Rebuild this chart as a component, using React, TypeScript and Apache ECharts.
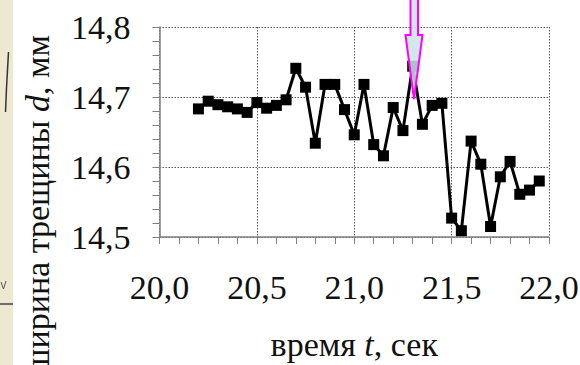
import React, { useEffect, useRef } from "react";
import * as echarts from "echarts";

const times: number[] = [
  20.2, 20.25, 20.3, 20.35, 20.4, 20.45, 20.5, 20.55, 20.6, 20.65, 20.7, 20.75,
  20.8, 20.85, 20.9, 20.95, 21.0, 21.05, 21.1, 21.15, 21.2, 21.25, 21.3, 21.35,
  21.4, 21.45, 21.5, 21.55, 21.6, 21.65, 21.7, 21.75, 21.8, 21.85, 21.9, 21.95,
];
const widths: number[] = [
  14.683, 14.694, 14.689, 14.686, 14.683, 14.678, 14.692, 14.684, 14.688, 14.696,
  14.741, 14.714, 14.634, 14.718, 14.718, 14.682, 14.646, 14.718, 14.632, 14.616,
  14.685, 14.652, 14.744, 14.661, 14.688, 14.691, 14.527, 14.509, 14.637, 14.604,
  14.515, 14.586, 14.608, 14.561, 14.567, 14.58,
];
const xName = "время {i|t}, сек";
const yName = "ширина трещины {i|d}, мм";
const FONT = "'Liberation Serif', 'Times New Roman', serif";

const fmt = (v: number) => v.toFixed(1).replace(".", ",");

export default function App() {
  const ref = useRef<HTMLDivElement>(null);
  useEffect(() => {
    if (!ref.current) return;
    const chart = echarts.init(ref.current, null, { renderer: "svg" });
    const axisGray = "#7f7f7f";
    const gridLine = { show: true, lineStyle: { color: "#555", type: [1.5, 1.5] as any, width: 1 } };
    chart.setOption({
      animation: false,
      backgroundColor: "#ffffff",
      grid: {
        left: 159.5,
        right: 31,
        top: 27,
        bottom: 128,
        containLabel: false,
        outerBoundsMode: "none",
      },
      xAxis: {
        type: "value",
        min: 20,
        max: 22,
        interval: 0.5,
        axisLine: { show: true, onZero: false, lineStyle: { color: axisGray, width: 1.5 } },
        axisTick: { show: true, length: 7, lineStyle: { color: axisGray, width: 1 } },
        minorTick: { show: true, splitNumber: 5, length: 7, lineStyle: { color: axisGray, width: 1 } },
        splitLine: gridLine,
        axisLabel: {
          formatter: (v: number) => fmt(v),
          color: "#111",
          fontFamily: FONT,
          fontSize: 34,
          margin: 33,
        },
        name: xName,
        nameLocation: "middle",
        nameGap: 90,
        nameTextStyle: {
          color: "#111",
          fontFamily: FONT,
          fontSize: 34,
          rich: { i: { fontStyle: "italic", fontFamily: FONT, fontSize: 34, color: "#111" } },
        },
      },
      yAxis: {
        type: "value",
        min: 14.5,
        max: 14.8,
        interval: 0.1,
        axisLine: { show: true, onZero: false, lineStyle: { color: axisGray, width: 1.5 } },
        axisTick: { show: true, length: 7, lineStyle: { color: axisGray, width: 1 } },
        minorTick: { show: true, splitNumber: 5, length: 7, lineStyle: { color: axisGray, width: 1 } },
        splitLine: gridLine,
        axisLabel: {
          formatter: (v: number) => fmt(v),
          color: "#111",
          fontFamily: FONT,
          fontSize: 34,
          margin: 29,
        },
      },
      series: [
        {
          type: "line",
          data: times.map((t, i) => [t, widths[i]]),
          symbol: "rect",
          symbolSize: 11,
          showSymbol: true,
          itemStyle: { color: "#000" },
          lineStyle: { color: "#000", width: 3 },
          z: 3,
        },
      ],
      graphic: [
        {
          type: "rect",
          shape: { x: 0, y: 0, width: 13, height: 365 },
          style: { fill: "#efe8d0" },
          z: 0,
        },
        {
          type: "polyline",
          shape: { points: [[8.5, 52], [7.5, 70], [6.5, 88], [6, 100], [5.5, 112]] },
          style: { stroke: "#333", lineWidth: 1.5, fill: "none" },
        },
        {
          type: "polyline",
          shape: { points: [[1, 282], [3.5, 289], [6, 281]] },
          style: { stroke: "#555", lineWidth: 1, fill: "none" },
        },
        {
          type: "line",
          shape: { x1: 0, y1: 304, x2: 13, y2: 304 },
          style: { stroke: "#444", lineWidth: 1.5 },
        },
        {
          type: "text",
          x: 37,
          y: 35,
          rotation: Math.PI / 2,
          style: {
            text: yName,
            fill: "#111",
            fontFamily: FONT,
            fontSize: 34,
            align: "right",
            verticalAlign: "middle",
            rich: { i: { fontStyle: "italic", fontFamily: FONT, fontSize: 34, fill: "#111" } },
          },
          z: 10,
        },
        {
          type: "polygon",
          shape: {
            points: [
              [410.5, -2],
              [418, -2],
              [418, 35],
              [422.5, 35],
              [414, 99],
              [405.5, 35],
              [410.5, 35],
            ],
          },
          style: { fill: "rgba(200,228,231,0.85)", stroke: "#ff00ff", lineWidth: 2 },
          z: 20,
        },
      ],
    });
    return () => chart.dispose();
  }, []);
  return (
    <div
      ref={ref}
      style={{ position: "fixed", left: 0, top: 0, width: 580, height: 365, background: "#fff" }}
    />
  );
}
